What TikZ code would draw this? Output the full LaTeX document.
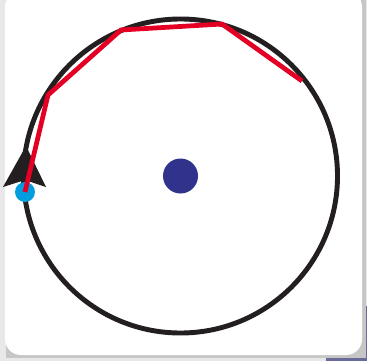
\documentclass[tikz,border=0pt]{standalone}
\usepackage{tikz}
\usetikzlibrary{calc, positioning}
\usepackage{xcolor}

\definecolor{orbitblack}{RGB}{35,31,32}
\definecolor{chordred}{RGB}{228,0,36}
\definecolor{centreblue}{RGB}{48,50,140}
\definecolor{startcyan}{RGB}{0,158,222}
\definecolor{backnavy}{RGB}{40,45,110}

\begin{document}
\begin{tikzpicture}[
	orbit/.style={line width=2.8pt, orbitblack},
	chord/.style={line width=2.7pt, chordred, line join=miter},
	card/.style={fill=white, rounded corners=9pt}
	]
	% =====================================================
	% HINTERGRUND UND KARTE
	% =====================================================
	\useasboundingbox (-3.61,-3.70) rectangle (3.73,3.52);
	\fill[gray!18] (-3.61,-3.70) rectangle (3.73,3.52);
	\fill[backnavy!70] (2.9,-3.70) rectangle (3.73,-2.6);
	\fill[gray!45] (-3.48,-3.64) rectangle (3.70,3.52);
	\fill[card] (-3.51,-3.58) rectangle (3.63,3.70);

	% =====================================================
	% KOORDINATEN
	% =====================================================
	\coordinate (Centre) at (0,0);
	\coordinate (Start) at (-3.11,-0.32);
	\coordinate (P1) at (-2.65,1.62);
	\coordinate (P2) at (-1.19,2.92);
	\coordinate (P3) at (0.83,3.04);
	\coordinate (P4) at (2.43,1.90);

	% =====================================================
	% KREISBAHN MIT PFEIL
	% =====================================================
	\draw[orbit] (Centre) circle (3.14);
	\fill[orbitblack] (-3.09,0.60) -- (-3.55,-0.22) -- (-3.11,-0.08) -- (-2.69,-0.22) -- cycle;

	% =====================================================
	% PUNKTE UND SEHNENZUG
	% =====================================================
	\fill[startcyan] (Start) circle (0.2);
	\draw[chord] (Start) -- (P1) -- (P2) -- (P3) -- (P4);
	\fill[centreblue] (Centre) circle (0.35);

\end{tikzpicture}
\end{document}
